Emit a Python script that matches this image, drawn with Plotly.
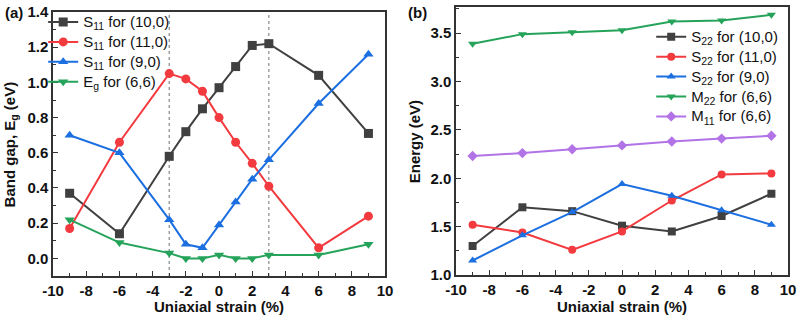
import plotly.graph_objects as go

# ---- data, panel (a) ----
strain_a = [-9, -6, -3, -2, -1, 0, 1, 2, 3, 6, 9]
s11_10_0 = [0.37, 0.14, 0.58, 0.72, 0.85, 0.97, 1.09, 1.21, 1.22, 1.04, 0.71]
s11_11_0 = [0.17, 0.66, 1.05, 1.02, 0.95, 0.80, 0.66, 0.54, 0.41, 0.06, 0.24]
s11_9_0 = [0.70, 0.60, 0.22, 0.08, 0.06, 0.19, 0.32, 0.45, 0.56, 0.88, 1.16]
eg_6_6 = [0.22, 0.09, 0.03, 0.00, 0.00, 0.02, 0.00, 0.00, 0.02, 0.02, 0.08]
guide_x = [-3, 3]

# ---- data, panel (b) ----
strain_b = [-9, -6, -3, 0, 3, 6, 9]
s22_10_0 = [1.30, 1.70, 1.66, 1.51, 1.45, 1.61, 1.84]
s22_11_0 = [1.52, 1.44, 1.26, 1.45, 1.77, 2.04, 2.05]
s22_9_0 = [1.15, 1.41, 1.65, 1.94, 1.82, 1.67, 1.52]
m22_6_6 = [3.39, 3.49, 3.51, 3.53, 3.62, 3.63, 3.69]
m11_6_6 = [2.23, 2.26, 2.30, 2.34, 2.38, 2.41, 2.44]

# tick labels (plain hyphen minus, like the original)
x_ticks = [-10, -8, -6, -4, -2, 0, 2, 4, 6, 8, 10]
x_tick_text = ["-10", "-8", "-6", "-4", "-2", "0", "2", "4", "6", "8", "10"]

BLACK = "#404040"
RED = "#f23a3f"
BLUE = "#1c6fe0"
GREEN = "#26a35a"
PURPLE = "#b273e6"
FONT = "Liberation Sans"


def big(s):
    # legend row spacing comes from the legend font (13px); draw the text a bit larger
    return "<span style='font-size:15px'>" + s + "</span>"


fig = go.Figure()

series_a = [
    ("S<sub>11</sub> for (10,0)", s11_10_0, BLACK, "square"),
    ("S<sub>11</sub> for (11,0)", s11_11_0, RED, "circle"),
    ("S<sub>11</sub> for (9,0)", s11_9_0, BLUE, "triangle-up"),
    ("E<sub>g</sub> for (6,6)", eg_6_6, GREEN, "triangle-down"),
]
for name, vals, col, sym in series_a:
    fig.add_trace(go.Scatter(x=strain_a, y=vals, name=big(name), mode="lines+markers",
                             line=dict(color=col, width=2),
                             marker=dict(symbol=sym, size=9, color=col),
                             xaxis="x", yaxis="y", legend="legend"))

series_b = [
    ("S<sub>22</sub> for (10,0)", s22_10_0, BLACK, "square"),
    ("S<sub>22</sub> for (11,0)", s22_11_0, RED, "circle"),
    ("S<sub>22</sub> for (9,0)", s22_9_0, BLUE, "triangle-up"),
    ("M<sub>22</sub> for (6,6)", m22_6_6, GREEN, "triangle-down"),
    ("M<sub>11</sub> for (6,6)", m11_6_6, PURPLE, "diamond"),
]
for name, vals, col, sym in series_b:
    fig.add_trace(go.Scatter(x=strain_b, y=vals, name=big(name), mode="lines+markers",
                             line=dict(color=col, width=2),
                             marker=dict(symbol=sym, size=8, color=col),
                             xaxis="x2", yaxis="y2", legend="legend2"))

# dotted guides in panel (a)
for gx in guide_x:
    fig.add_shape(type="line", xref="x", yref="y domain", x0=gx, x1=gx, y0=0, y1=1,
                  line=dict(color="#888888", width=1.2, dash="dot"), layer="below")

axis_common = dict(showline=True, linecolor="#333333", linewidth=1.5, mirror=True,
                   ticks="inside", ticklen=5, tickwidth=1.2, tickcolor="#333333",
                   showgrid=False, zeroline=False, automargin=False,
                   tickfont=dict(family=FONT, size=15, color="#111111", weight="bold"))
minor_ticks = dict(ticks="inside", ticklen=3, tickcolor="#333333")

fig.update_layout(
    width=800, height=321,
    margin=dict(l=0, r=0, t=0, b=0, pad=0),
    paper_bgcolor="white", plot_bgcolor="white",
    font=dict(family=FONT, size=13, color="#111111"),
    xaxis=dict(domain=[0.0663, 0.4813], range=[-10, 10], tickvals=x_ticks, ticktext=x_tick_text,
               anchor="y", minor=dict(dtick=1, **minor_ticks), **axis_common),
    yaxis=dict(domain=[0.1402, 0.9626], range=[-0.1, 1.4], dtick=0.2, tickformat=".1f",
               anchor="x", minor=dict(dtick=0.1, **minor_ticks), **axis_common),
    xaxis2=dict(domain=[0.57, 0.985], range=[-10, 10], tickvals=x_ticks, ticktext=x_tick_text,
                anchor="y2", minor=dict(dtick=1, **minor_ticks), **axis_common),
    yaxis2=dict(domain=[0.1433, 0.978], range=[1.0, 3.77], dtick=0.5, tickformat=".1f",
                anchor="x2", minor=dict(dtick=0.25, **minor_ticks), **axis_common),
    legend=dict(x=0.054, y=0.978, xanchor="left", yanchor="top", bgcolor="rgba(0,0,0,0)",
                font=dict(family=FONT, size=13, color="#111111"), tracegroupgap=0,
                itemwidth=30),
    legend2=dict(x=0.814, y=0.932, xanchor="left", yanchor="top", bgcolor="rgba(0,0,0,0)",
                 font=dict(family=FONT, size=13, color="#111111"), tracegroupgap=0,
                 itemwidth=30),
    showlegend=True,
)

bold = dict(family=FONT, size=15, color="#111111", weight="bold")
fig.add_annotation(text="(a)", x=0.004, y=0.995, xref="paper", yref="paper",
                   xanchor="left", yanchor="top", showarrow=False, font=bold)
fig.add_annotation(text="(b)", x=0.508, y=0.995, xref="paper", yref="paper",
                   xanchor="left", yanchor="top", showarrow=False, font=bold)
fig.add_annotation(text="Uniaxial strain (%)", x=0.274, y=0.044, xref="paper", yref="paper",
                   xanchor="center", yanchor="middle", showarrow=False, font=bold)
fig.add_annotation(text="Uniaxial strain (%)", x=0.778, y=0.044, xref="paper", yref="paper",
                   xanchor="center", yanchor="middle", showarrow=False, font=bold)
fig.add_annotation(text="Band gap, E<sub>g</sub> (eV)", x=0.0125, y=0.55, xref="paper",
                   yref="paper", xanchor="center", yanchor="middle", textangle=-90,
                   showarrow=False, font=bold)
fig.add_annotation(text="Energy (eV)", x=0.5175, y=0.56, xref="paper", yref="paper",
                   xanchor="center", yanchor="middle", textangle=-90, showarrow=False, font=bold)

# the page's default 8px body margin would shift the figure; drop it
fig.write_html("out.html", config={"displayModeBar": False},
               post_script="document.body.style.margin='0';")
